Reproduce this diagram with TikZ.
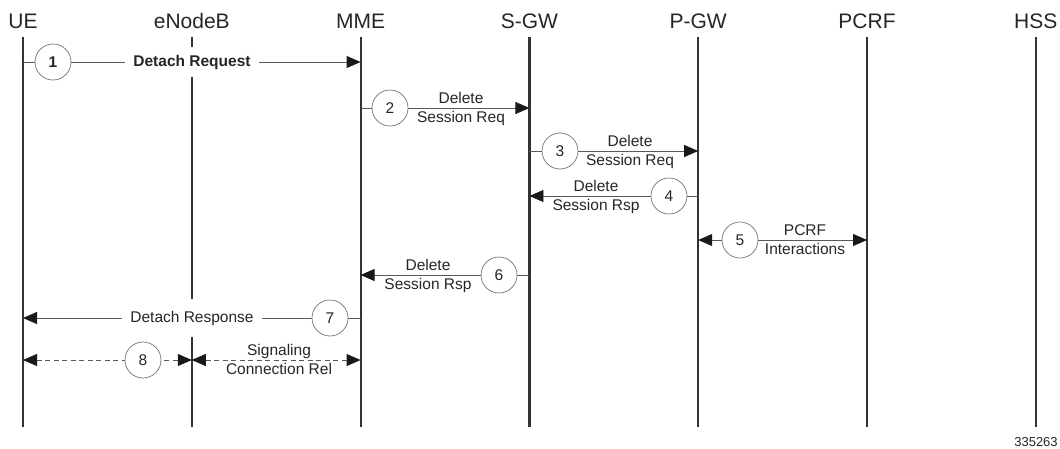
\documentclass[tikz,border=0pt]{standalone}
\usepackage{fontspec}
\setmainfont{Liberation Sans}
\usetikzlibrary{arrows.meta}
\begin{document}
\begin{tikzpicture}[x=1pt,y=1pt,
  head/.style={font=\fontsize{21}{24}\selectfont, text=black!85, inner sep=0pt},
  life/.style={line width=2.2pt, draw=black!80},
  tip/.tip={Triangle[length=14pt,width=12pt]},
  msg/.style={line width=0.8pt, draw=black!65, -{tip[black!90]}},
  bimsg/.style={line width=0.8pt, draw=black!65, {tip[black!90]}-{tip[black!90]}},
  dmsg/.style={bimsg, dash pattern=on 5pt off 3.5pt},
  num/.style={circle, draw=black!55, line width=0.7pt, fill=white, minimum size=36pt, inner sep=0pt, font=\fontsize{15.5}{18}\selectfont, text=black!85},
  lbl/.style={font=\fontsize{15.5}{18}\selectfont, inner sep=0pt, anchor=base, text=black!85},
  onl/.style={font=\fontsize{15.5}{18}\selectfont, fill=white, inner xsep=8pt, text=black!85},
  ref/.style={font=\fontsize{13}{15}\selectfont, inner sep=0pt, text=black!85}
]
\useasboundingbox (0,0) rectangle (1060,-448);

% heads
\node[head] (ue)   at (23,-21)    {UE};
\node[head] (enb)  at (191.8,-21) {eNodeB};
\node[head] (mme)  at (360.6,-21) {MME};
\node[head] (sgw)  at (529.4,-21) {S-GW};
\node[head] (pgw)  at (698.2,-21) {P-GW};
\node[head] (pcrf) at (867,-21)   {PCRF};
\node[head] (hss)  at (1035.8,-21){HSS};

% lifeline levels
\coordinate (top) at (0,-37);
\coordinate (bot) at (0,-427);
\foreach \n in {ue,enb,mme,sgw,pgw,pcrf,hss}{
  \draw[life] (\n |- top) -- (\n |- bot);
}

% message levels
\coordinate (s1) at (0,-62);
\coordinate (s2) at (0,-108);
\coordinate (s3) at (0,-151);
\coordinate (s4) at (0,-196);
\coordinate (s5) at (0,-240);
\coordinate (s6) at (0,-275);
\coordinate (s7) at (0,-318);
\coordinate (s8) at (0,-360);

% 1 Detach Request
\draw[msg] (ue |- s1) -- (mme |- s1);
\node[num, font=\fontsize{15.5}{18}\selectfont\bfseries] (c1) at (53,-62) {1};
\node[onl, inner ysep=8pt, font=\fontsize{15.5}{18}\selectfont\bfseries] (t1) at (192,-62) {Detach Request};

% 2
\draw[msg] (mme |- s2) -- (sgw |- s2);
\node[num] (c2) at (390,-108) {2};
\node[lbl] (t2a) at (461,-103.5) {Delete};
\node[lbl] (t2b) at (461,-122.5) {Session Req};

% 3
\draw[msg] (sgw |- s3) -- (pgw |- s3);
\node[num] (c3) at (560,-151) {3};
\node[lbl] (t3a) at (630,-146.5) {Delete};
\node[lbl] (t3b) at (630,-165.5) {Session Req};

% 4
\draw[msg] (pgw |- s4) -- (sgw |- s4);
\node[num] (c4) at (669,-196) {4};
\node[lbl] (t4a) at (596,-191.5) {Delete};
\node[lbl] (t4b) at (596,-210.5) {Session Rsp};

% 5
\draw[bimsg] (pgw |- s5) -- (pcrf |- s5);
\node[num] (c5) at (740,-240) {5};
\node[lbl] (t5a) at (805,-235.5) {PCRF};
\node[lbl] (t5b) at (805,-254.5) {Interactions};

% 6
\draw[msg] (sgw |- s6) -- (mme |- s6);
\node[num] (c6) at (499,-275) {6};
\node[lbl] (t6a) at (428,-270.5) {Delete};
\node[lbl] (t6b) at (428,-289.5) {Session Rsp};

% 7 Detach Response
\draw[msg] (mme |- s7) -- (ue |- s7);
\node[num] (c7) at (330,-318) {7};
\node[onl, inner ysep=12pt] (t7) at (192,-318) {Detach Response};

% 8
\draw[dmsg] (ue |- s8) -- (enb |- s8);
\draw[dmsg] (enb |- s8) -- (mme |- s8);
\node[num] (c8) at (143,-360) {8};
\node[lbl] (t8a) at (279,-355.5) {Signaling};
\node[lbl] (t8b) at (279,-374.5) {Connection Rel};

% figure id
\node[ref, anchor=base] (id) at (1036,-446) {335263};
\end{tikzpicture}
\end{document}
